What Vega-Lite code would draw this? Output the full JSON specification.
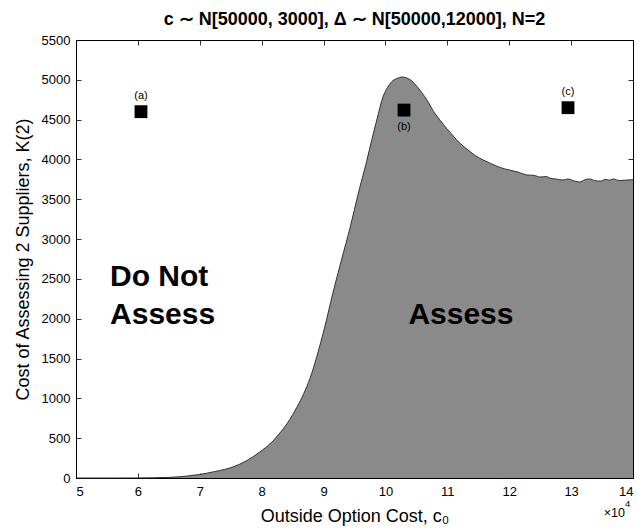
{
  "$schema": "https://vega.github.io/schema/vega-lite/v6.json",
  "width": 557,
  "height": 438,
  "autosize": {"type": "none"},
  "padding": {"left": 76, "top": 40, "right": 4, "bottom": 51},
  "background": "white",
  "title": {
    "text": "c ∼ N[50000, 3000], Δ ∼ N[50000,12000], N=2",
    "anchor": "middle"
  },
  "config": {
    "view": {"stroke": "black", "strokeWidth": 1},
    "title": {
      "font": "Liberation Sans",
      "fontSize": 18,
      "fontWeight": "bold",
      "color": "black",
      "offset": 5
    },
    "axis": {
      "domainColor": "black",
      "tickColor": "black",
      "labelColor": "black",
      "titleColor": "black",
      "labelFont": "Liberation Sans",
      "titleFont": "Liberation Sans",
      "labelFontSize": 13,
      "titleFontSize": 18,
      "titleFontWeight": "normal",
      "grid": false,
      "tickSize": -5,
      "tickWidth": 0.8,
      "domainWidth": 1
    }
  },
  "datasets": {
    "boundary": [
      {"c0": 50000, "K": 0},
      {"c0": 55000, "K": 0},
      {"c0": 60000, "K": 1},
      {"c0": 65000, "K": 8},
      {"c0": 68000, "K": 25},
      {"c0": 70000, "K": 45},
      {"c0": 72500, "K": 82},
      {"c0": 75400, "K": 140},
      {"c0": 77500, "K": 215},
      {"c0": 79700, "K": 327},
      {"c0": 81500, "K": 440},
      {"c0": 83000, "K": 570},
      {"c0": 84500, "K": 730},
      {"c0": 85700, "K": 890},
      {"c0": 86800, "K": 1060},
      {"c0": 87800, "K": 1250},
      {"c0": 88900, "K": 1523},
      {"c0": 90200, "K": 1900},
      {"c0": 91500, "K": 2320},
      {"c0": 92900, "K": 2740},
      {"c0": 94300, "K": 3150},
      {"c0": 95600, "K": 3570},
      {"c0": 97000, "K": 3990},
      {"c0": 97800, "K": 4250},
      {"c0": 98600, "K": 4495},
      {"c0": 99600, "K": 4785},
      {"c0": 100300, "K": 4900},
      {"c0": 101000, "K": 4975},
      {"c0": 101800, "K": 5015},
      {"c0": 102700, "K": 5035},
      {"c0": 104000, "K": 5000},
      {"c0": 105300, "K": 4897},
      {"c0": 106700, "K": 4747},
      {"c0": 107800, "K": 4600},
      {"c0": 108800, "K": 4495},
      {"c0": 110000, "K": 4380},
      {"c0": 111000, "K": 4290},
      {"c0": 112000, "K": 4207},
      {"c0": 113500, "K": 4110},
      {"c0": 114500, "K": 4050},
      {"c0": 115800, "K": 3993},
      {"c0": 117000, "K": 3950},
      {"c0": 118500, "K": 3900},
      {"c0": 120000, "K": 3868},
      {"c0": 121500, "K": 3840},
      {"c0": 122900, "K": 3805},
      {"c0": 124000, "K": 3800},
      {"c0": 125000, "K": 3780},
      {"c0": 126000, "K": 3785},
      {"c0": 126600, "K": 3765},
      {"c0": 127500, "K": 3755},
      {"c0": 128700, "K": 3742},
      {"c0": 129500, "K": 3755},
      {"c0": 130500, "K": 3730},
      {"c0": 131400, "K": 3717},
      {"c0": 132200, "K": 3745},
      {"c0": 133000, "K": 3755},
      {"c0": 133800, "K": 3735},
      {"c0": 134700, "K": 3728},
      {"c0": 135600, "K": 3750},
      {"c0": 136200, "K": 3740},
      {"c0": 136800, "K": 3755},
      {"c0": 137800, "K": 3735},
      {"c0": 139000, "K": 3742},
      {"c0": 140000, "K": 3745}
    ],
    "cases": [
      {"c0": 60500, "K": 4600, "label": "(a)", "pos": "above"},
      {"c0": 103000, "K": 4620, "label": "(b)", "pos": "below"},
      {"c0": 129500, "K": 4650, "label": "(c)", "pos": "above"}
    ],
    "doNotAssess": [
      {"c0": 55500, "K": 2411, "label": "Do Not"},
      {"c0": 55500, "K": 1934, "label": "Assess"}
    ],
    "assess": [
      {"c0": 112200, "K": 1934, "label": "Assess"}
    ],
    "multiplier": [
      {"c0": 140000, "K": 0, "base": "×10", "exponent": "4"}
    ]
  },
  "resolve": {"axis": {"x": "independent", "y": "independent"}},
  "layer": [
    {
      "data": {"name": "boundary"},
      "mark": {"type": "area", "fill": "#8a8a8a", "opacity": 1, "interpolate": "monotone"},
      "encoding": {
        "x": {
          "field": "c0", "type": "quantitative",
          "scale": {"domain": [50000, 140000], "nice": false, "zero": false},
          "axis": {
            "orient": "bottom",
            "values": [50000, 60000, 70000, 80000, 90000, 100000, 110000, 120000, 130000, 140000],
            "labelExpr": "format(datum.value / 10000, 'd')",
            "labelPadding": 12,
            "title": "Outside Option Cost, c₀",
            "titlePadding": 9
          }
        },
        "y": {
          "field": "K", "type": "quantitative",
          "scale": {"domain": [0, 5500], "nice": false},
          "axis": {
            "orient": "left",
            "values": [0, 500, 1000, 1500, 2000, 2500, 3000, 3500, 4000, 4500, 5000, 5500],
            "format": "d",
            "labelPadding": 11,
            "title": "Cost of Assessing 2 Suppliers, K(2)",
            "titlePadding": 9
          }
        }
      }
    },
    {
      "data": {"name": "boundary"},
      "mark": {"type": "line", "color": "#222222", "strokeWidth": 0.9, "interpolate": "monotone"},
      "encoding": {
        "x": {
          "field": "c0", "type": "quantitative",
          "axis": {
            "orient": "top",
            "values": [50000, 60000, 70000, 80000, 90000, 100000, 110000, 120000, 130000, 140000],
            "labels": false,
            "title": null
          }
        },
        "y": {
          "field": "K", "type": "quantitative",
          "axis": {
            "orient": "right",
            "values": [0, 500, 1000, 1500, 2000, 2500, 3000, 3500, 4000, 4500, 5000, 5500],
            "labels": false,
            "title": null
          }
        }
      }
    },
    {
      "data": {"name": "cases"},
      "mark": {"type": "point", "shape": "square", "filled": true, "color": "black", "size": 165, "opacity": 1},
      "encoding": {
        "x": {"field": "c0", "type": "quantitative", "axis": null},
        "y": {"field": "K", "type": "quantitative", "axis": null}
      }
    },
    {
      "data": {"name": "cases"},
      "transform": [{"filter": "datum.pos === 'above'"}],
      "mark": {"type": "text", "font": "Liberation Sans", "fontSize": 11, "color": "black", "dy": -16},
      "encoding": {
        "x": {"field": "c0", "type": "quantitative", "axis": null},
        "y": {"field": "K", "type": "quantitative", "axis": null},
        "text": {"field": "label"}
      }
    },
    {
      "data": {"name": "cases"},
      "transform": [{"filter": "datum.pos === 'below'"}],
      "mark": {"type": "text", "font": "Liberation Sans", "fontSize": 11, "color": "black", "dy": 17},
      "encoding": {
        "x": {"field": "c0", "type": "quantitative", "axis": null},
        "y": {"field": "K", "type": "quantitative", "axis": null},
        "text": {"field": "label"}
      }
    },
    {
      "data": {"name": "doNotAssess"},
      "mark": {"type": "text", "font": "Liberation Sans", "fontSize": 30, "fontWeight": "bold", "color": "black", "align": "left", "baseline": "alphabetic"},
      "encoding": {
        "x": {"field": "c0", "type": "quantitative", "axis": null},
        "y": {"field": "K", "type": "quantitative", "axis": null},
        "text": {"field": "label"}
      }
    },
    {
      "data": {"name": "assess"},
      "mark": {"type": "text", "font": "Liberation Sans", "fontSize": 30, "fontWeight": "bold", "color": "black", "align": "center", "baseline": "alphabetic"},
      "encoding": {
        "x": {"field": "c0", "type": "quantitative", "axis": null},
        "y": {"field": "K", "type": "quantitative", "axis": null},
        "text": {"field": "label"}
      }
    },
    {
      "data": {"name": "multiplier"},
      "mark": {"type": "text", "font": "Liberation Sans", "fontSize": 12.5, "color": "black", "align": "right", "baseline": "middle", "dx": -8, "dy": 35},
      "encoding": {
        "x": {"field": "c0", "type": "quantitative", "axis": null},
        "y": {"field": "K", "type": "quantitative", "axis": null},
        "text": {"field": "base"}
      }
    },
    {
      "data": {"name": "multiplier"},
      "mark": {"type": "text", "font": "Liberation Sans", "fontSize": 9.5, "color": "black", "align": "left", "baseline": "middle", "dx": -8, "dy": 26},
      "encoding": {
        "x": {"field": "c0", "type": "quantitative", "axis": null},
        "y": {"field": "K", "type": "quantitative", "axis": null},
        "text": {"field": "exponent"}
      }
    }
  ]
}
